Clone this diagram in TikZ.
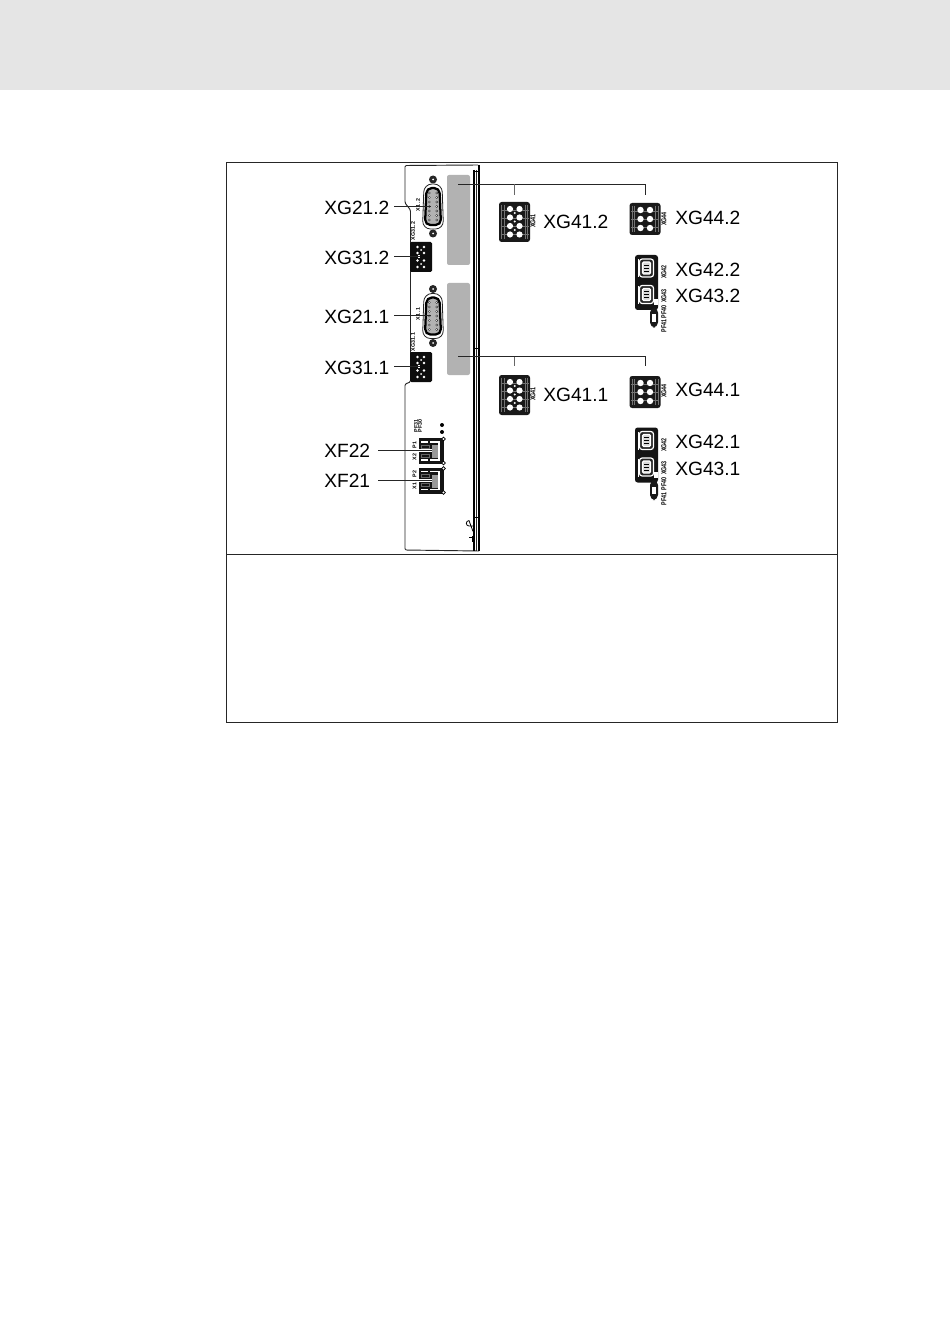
\documentclass[tikz,border=0pt]{standalone}
\usepackage{fontspec}
\setmainfont{Liberation Sans}
\newcommand{\tinyprint}[1]{\scalebox{1}[1.35]{#1}}
\tikzset{
  lbl/.style={inner sep=0pt,font=\fontsize{14.4pt}{16pt}\selectfont,text=black},
  tiny/.style={inner sep=0pt,rotate=90,font=\fontsize{4pt}{4.5pt}\selectfont\bfseries,text=black},
  leader/.style={draw=black!85,line width=0.8pt},
  halo/.style={draw=white,line width=2.4pt},
  greyplate/.style={fill=black!30,draw=none,rounded corners=1.5pt},
  pics/plugA/.style={code={
    \fill[black!90,rounded corners=2pt] (-15.5,-20) rectangle (15.5,20);
    \foreach \x in {-13,-10.5,10.5,13}{
      \draw[black!55,line width=0.35pt] (\x,-17) -- (\x,17);}
    \foreach \y in {-12,-4,4,12}{
      \draw[black!55,line width=0.35pt] (-14,\y) -- (14,\y);}
    \foreach \y in {-13,-4.5,4,12.5}{
      \fill[white] (-4.5,\y) circle (3.1);
      \fill[white] (5,\y) circle (3.1);
    }
    \foreach \y in {-9,-0.5,8}{\fill[white] (0.3,\y) circle (1.1);}
  }},
  pics/plugB/.style={code={
    \fill[black!90,rounded corners=2pt] (-15.5,-16) rectangle (15.5,16);
    \foreach \x in {-13,-10.5,10.5,13}{
      \draw[black!55,line width=0.35pt] (\x,-13) -- (\x,13);}
    \foreach \y in {-9,-1,7}{
      \draw[black!55,line width=0.35pt] (-14,\y+1) -- (14,\y+1);}
    \foreach \y in {-9,0,9}{
      \fill[white] (-4.5,\y) circle (3.2);
      \fill[white] (5,\y) circle (3.2);
    }
  }},
  pics/plugC/.style={code={
    \fill[black!95,rounded corners=1pt] (-11,-15) rectangle (11,15);
    \foreach \y in {-10,-4,3.5,10}{
      \fill[white] (-3.5,\y) circle (1.4);
      \fill[white] (3,\y) circle (1.4);
    }
    \fill[white] (0,-7) circle (1);
    \fill[white] (0,7) circle (1);
  }},
  pics/dsub/.style={code={
    \fill[black!85] (0,-27) circle (4);
    \fill[black!85] (0,27) circle (4);
    \fill[white] (0,-27) circle (1);
    \fill[white] (0,27) circle (1);
    \draw[black!85,line width=0.6pt,fill=white,rounded corners=6pt] (-9,-22.5) -- (9,-22.5) -- (10.5,22.5) -- (-10.5,22.5) -- cycle;
    \draw[black,line width=1.7pt,fill=black!30,rounded corners=4pt] (-6.5,-18.5) -- (6.5,-18.5) -- (8,18.5) -- (-8,18.5) -- cycle;
    \foreach \y in {-13.5,-9,-4.5,0,4.5,9,13.5}{
      \fill[black!80] (-3.7,\y) circle (1.3);
      \fill[white] (-3.7,\y) circle (0.5);
      \fill[black!80] (3.7,\y) circle (1.3);
      \fill[white] (3.7,\y) circle (0.5);
    }
  }},
  pics/rj/.style={code={
    \fill[black!92] (-12.5,-13) rectangle (12.5,13);
    \draw[white,line width=0.8pt] (-1,-9) -- (8,-9) -- (8,9) -- (-1,9);
    \fill[black!40] (1,-6) rectangle (7,7);
    \draw[white,line width=1pt] (-10,-9) -- (-3,-9);
    \draw[white,line width=1pt] (-10,9) -- (-3,9);
    \draw[black!60,line width=0.4pt] (-10,-6) rectangle (-2,-3);
    \draw[black!60,line width=0.4pt] (-10,6) rectangle (-2,3);
    \draw[black,fill=white,line width=0.5pt] (12.5,-12) circle (1.8);
    \draw[black,fill=white,line width=0.5pt] (12.5,12) circle (1.8);
  }},
  pics/usb/.style={code={
    \draw[white,line width=0.9pt,fill=black!85,rounded corners=2pt] (-7,-9) rectangle (7,9);
    \draw[white,line width=0.9pt,fill=black!15,rounded corners=1pt] (-4,-6) rectangle (4,6);
    \foreach \y in {-3,0,3}{\draw[black,line width=0.6pt] (-2.5,\y) -- (2.5,\y);}
  }},
  pics/usbblock/.style={code={
    \fill[black!92,rounded corners=2pt] (-11.5,-27.5) rectangle (11.5,27.5);
    \draw[white,line width=0.6pt] (-8.5,-23) -- (-8.5,-5) (-8.5,4) -- (-8.5,22);
    \pic at (0,-14.5) {usb};
    \pic at (0,12) {usb};
    \fill[white] (7.5,17) rectangle (11,23);
    \fill[black!90,rounded corners=3.8pt] (3.5,25) rectangle (11.5,45);
    \fill[white] (5.8,32) rectangle (9.2,39);
  }},
}
\begin{document}
\begin{tikzpicture}[x=0.75pt,y=-0.75pt]
\useasboundingbox (0,0) rectangle (950,1344);
\fill[white] (0,0) rectangle (950,1344);
\fill[black!10] (0,0) rectangle (950,90.5);
\draw[black!85,line width=0.8pt] (226.5,162.5) rectangle (837.5,722.5);
\draw[black!85,line width=0.8pt] (226.5,554.5) -- (837.5,554.5);

% housing
\draw[black!85,line width=0.7pt,rounded corners=1pt] (478,165) -- (405,165.5) -- (405,203) -- (410.5,210) -- (410.5,382) -- (405,384) -- (405,550) -- (479,551);
\draw[black,line width=1.2pt] (474,170) -- (474,551);
\draw[black!85,line width=0.6pt] (476.5,170) -- (476.5,551);
\draw[black,line width=1.2pt] (479,165) -- (479,551);
\draw[black,line width=0.7pt] (473,171) -- (480,171) (473,348) -- (480,348) (473,517) -- (480,517);
\draw[black,line width=0.6pt] (473,526) -- (469,526) arc (90:270:2.7) -- (473,531.4);
\draw[black,line width=0.6pt] (472,536) -- (472,542) (469,537) -- (472,537);

% grey plates
\path[greyplate] (447,175) rectangle (470,265);
\path[greyplate] (447,283) rectangle (470,375);

% connectors
\coordinate (xg212) at (433,206.5);
\coordinate (xg211) at (433,316);
\coordinate (xg312) at (421,257);
\coordinate (xg311) at (421,367);
\coordinate (xf22) at (431,451);
\coordinate (xf21) at (431,480.5);
\pic at (xg212) {dsub};
\pic at (xg211) {dsub};
\pic at (xg312) {plugC};
\pic at (xg311) {plugC};
\pic at (xf22) {rj};
\pic at (xf21) {rj};
\fill[black] (442,425) circle (2) (442,432) circle (2);

\coordinate (p412) at (514.5,222);
\coordinate (p411) at (514.5,395);
\coordinate (p442) at (645,219);
\coordinate (p441) at (645,392);
\coordinate (u2) at (646.5,282.5);
\coordinate (u1) at (646.5,455);
\pic at (p412) {plugA};
\pic at (p411) {plugA};
\pic at (p442) {plugB};
\pic at (p441) {plugB};
\pic at (u2) {usbblock};
\pic at (u1) {usbblock};

% tiny prints
\node[tiny] (t1) at (533,221) {\tinyprint{XG41}};
\node[tiny] (t2) at (533,394) {\tinyprint{XG41}};
\node[tiny] (t3) at (664,219) {\tinyprint{XG44}};
\node[tiny] (t4) at (664,391) {\tinyprint{XG44}};
\node[tiny] (t5) at (664,272) {\tinyprint{XG42}};
\node[tiny] (t6) at (664,445) {\tinyprint{XG42}};
\node[tiny] (t7) at (664,296) {\tinyprint{XG43}};
\node[tiny] (t8) at (664,468) {\tinyprint{XG43}};
\node[tiny] (t9) at (664,312) {\tinyprint{PF40}};
\node[tiny] (t10) at (664,484) {\tinyprint{PF40}};
\node[tiny] (t11) at (664,326) {\tinyprint{PF41}};
\node[tiny] (t12) at (664,499) {\tinyprint{PF41}};
\node[tiny] (t13) at (413,231) {XG31.2};
\node[tiny] (t14) at (413,342) {XG31.1};
\node[tiny] (t15) at (418,205) {X1 .2};
\node[tiny] (t16) at (418,314) {X1 .1};
\node[tiny] (t17) at (416,426) {PF31};
\node[tiny] (t18) at (420,426) {PF30};
\node[tiny] (t19) at (414.5,445) {P1};
\node[tiny] (t20) at (414.5,457) {X2};
\node[tiny] (t21) at (414.5,474) {P2};
\node[tiny] (t22) at (414.5,486) {X1};

% labels
\node[lbl,anchor=west] (LXG212) at (324,207.5) {XG21.2};
\node[lbl,anchor=west] (LXG312) at (324,257.5) {XG31.2};
\node[lbl,anchor=west] (LXG211) at (324,316.5) {XG21.1};
\node[lbl,anchor=west] (LXG311) at (324,367.5) {XG31.1};
\node[lbl,anchor=west] (LXF22) at (324,451) {XF22};
\node[lbl,anchor=west] (LXF21) at (324,480.5) {XF21};
\node[lbl,anchor=west] (LXG412) at (543,221.5) {XG41.2};
\node[lbl,anchor=west] (LXG442) at (675,217.5) {XG44.2};
\node[lbl,anchor=west] (LXG422) at (675,269.5) {XG42.2};
\node[lbl,anchor=west] (LXG432) at (675,296) {XG43.2};
\node[lbl,anchor=west] (LXG411) at (543,394.5) {XG41.1};
\node[lbl,anchor=west] (LXG441) at (675,390) {XG44.1};
\node[lbl,anchor=west] (LXG421) at (675,442) {XG42.1};
\node[lbl,anchor=west] (LXG431) at (675,469) {XG43.1};

% leaders
\coordinate (c1a) at (394,206.5); \coordinate (c1b) at (431,206.5);
\coordinate (c2a) at (394,256.5); \coordinate (c2b) at (420,256.5);
\coordinate (c3a) at (394,315.5); \coordinate (c3b) at (431,315.5);
\coordinate (c4a) at (394,366.5); \coordinate (c4b) at (420,366.5);
\coordinate (q22) at (378,450.5); \coordinate (q22b) at (432,450.5);
\coordinate (q21) at (378,480.5); \coordinate (q21b) at (432,480.5);
\draw[halo] (418,256.5) -- (c2b) (418,366.5) -- (c4b) (419,450.5) -- (q22b) (419,480.5) -- (q21b);
\draw[leader] (c1a) -- (c1b);
\draw[leader] (c2a) -- (c2b);
\draw[leader] (c3a) -- (c3b);
\draw[leader] (c4a) -- (c4b);
\draw[leader] (q22) -- (q22b);
\draw[leader] (q21) -- (q21b);

% brackets from the grey plates
\coordinate (top2) at (458,184.5);
\coordinate (top1) at (458,356.5);
\draw[leader] (top2) -| (645.5,195);
\draw[leader,draw=black!60] (514.5,184.5) -- (514.5,195);
\draw[leader] (top1) -| (645.5,366);
\draw[leader,draw=black!60] (514.5,356.5) -- (514.5,366);
\end{tikzpicture}
\end{document}
